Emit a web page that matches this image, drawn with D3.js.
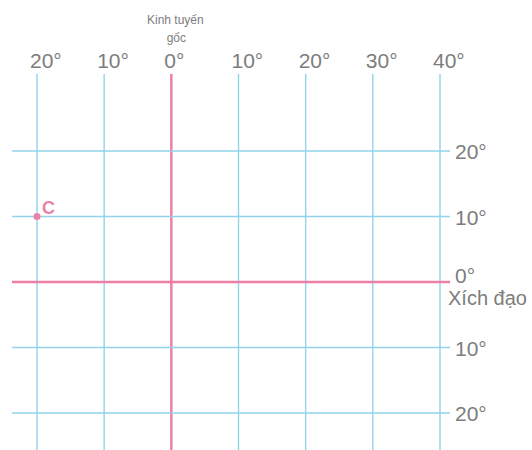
<!DOCTYPE html>
<html>
<head>
<meta charset="utf-8">
<script src="https://cdn.jsdelivr.net/npm/d3@7"></script>
<style>
  body { margin: 0; background: #fff; }
  text { font-family: "Liberation Sans", Arial, sans-serif; }
</style>
</head>
<body>
<div id="chart"></div>
<script>
// meridians (negative = west) and parallels (negative = south)
var longitudes = [-20, -10, 0, 10, 20, 30, 40];
var latitudes = [20, 10, 0, -10, -20];
var points = [{ name: "C", lon: -20, lat: 10 }];

var svgWidth = 532;
var svgHeight = 450;

var gridBlue = "#92d3ea";
var gridPink = "#ec7fa3";
var labelGray = "#7d7d7d";

var svg = d3.select("#chart")
  .append("svg")
  .attr("width", svgWidth)
  .attr("height", svgHeight);

var x = d3.scaleLinear().domain([-20, 40]).range([37, 440]);
var y = d3.scaleLinear().domain([20, -20]).range([151, 413]);

// vertical lines
svg.selectAll(".meridian")
  .data(longitudes)
  .enter().append("line")
  .attr("class", "meridian")
  .attr("x1", d => x(d))
  .attr("x2", d => x(d))
  .attr("y1", 74)
  .attr("y2", svgHeight)
  .attr("stroke", d => d === 0 ? gridPink : gridBlue)
  .attr("stroke-width", d => d === 0 ? 2.5 : 1.4);

// horizontal lines
svg.selectAll(".parallel")
  .data(latitudes)
  .enter().append("line")
  .attr("class", "parallel")
  .attr("x1", 12)
  .attr("x2", 450)
  .attr("y1", d => y(d))
  .attr("y2", d => y(d))
  .attr("stroke", d => d === 0 ? gridPink : gridBlue)
  .attr("stroke-width", d => d === 0 ? 2.5 : 1.4);

// top labels
svg.selectAll(".lonLabel")
  .data(longitudes)
  .enter().append("text")
  .attr("class", "lonLabel")
  .attr("x", d => x(d) - 7)
  .attr("y", 68)
  .attr("font-size", 21)
  .attr("fill", labelGray)
  .text(d => Math.abs(d) + "°");

svg.append("text")
  .attr("x", x(0) + 4)
  .attr("y", 24)
  .attr("text-anchor", "middle")
  .attr("font-size", 12)
  .attr("fill", labelGray)
  .text("Kinh tuyến");

svg.append("text")
  .attr("x", x(0) + 5)
  .attr("y", 42)
  .attr("text-anchor", "middle")
  .attr("font-size", 12)
  .attr("fill", labelGray)
  .text("gốc");

// right labels
svg.selectAll(".latLabel")
  .data(latitudes)
  .enter().append("text")
  .attr("class", "latLabel")
  .attr("x", 455)
  .attr("y", d => d === 0 ? y(d) + 1 : y(d) + 8)
  .attr("font-size", 21)
  .attr("fill", labelGray)
  .text(d => Math.abs(d) + "°");

svg.append("text")
  .attr("x", 448)
  .attr("y", y(0) + 23)
  .attr("font-size", 20)
  .attr("fill", labelGray)
  .text("Xích đạo");

// point C
svg.selectAll(".pt")
  .data(points)
  .enter().append("circle")
  .attr("class", "pt")
  .attr("cx", d => x(d.lon))
  .attr("cy", d => y(d.lat))
  .attr("r", 3.5)
  .attr("fill", gridPink);

svg.selectAll(".ptLabel")
  .data(points)
  .enter().append("text")
  .attr("class", "ptLabel")
  .attr("x", d => x(d.lon) + 5)
  .attr("y", d => y(d.lat) - 3)
  .attr("font-size", 18)
  .attr("font-weight", "bold")
  .attr("fill", gridPink)
  .text(d => d.name);
</script>
</body>
</html>
